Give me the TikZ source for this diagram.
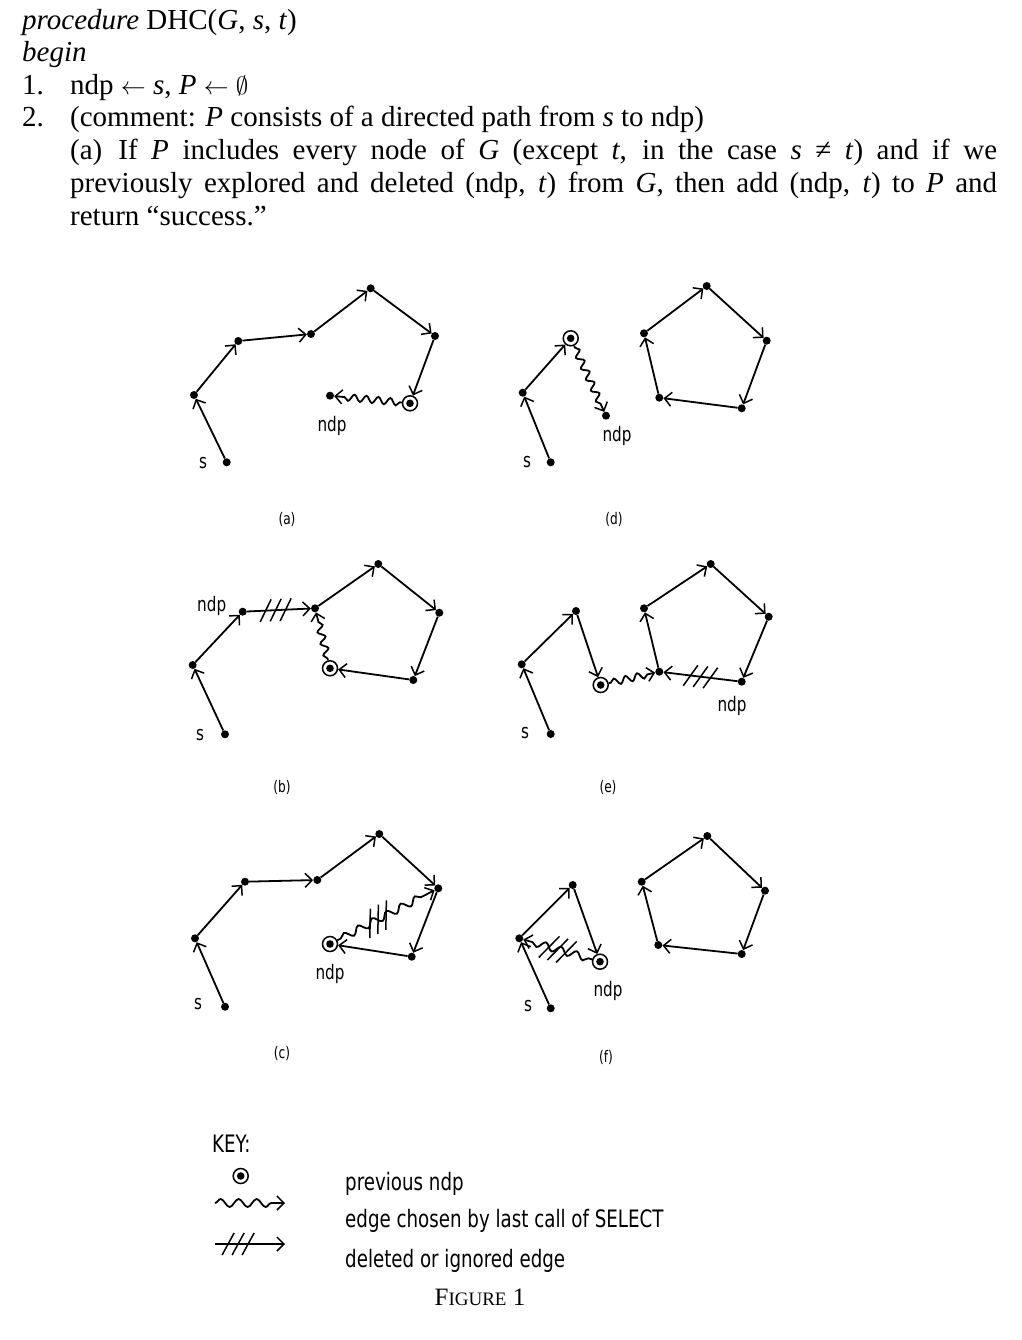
\documentclass[tikz,border=0pt]{standalone}
\usepackage{fontspec}
\setmainfont{Liberation Serif}
\newfontfamily\keyfont[FakeStretch=0.76]{DejaVu Sans}
\usetikzlibrary{arrows.meta,decorations.pathmorphing,decorations.markings}
\tikzset{
  dot/.style={circle,fill=black,inner sep=0pt,minimum size=8pt},
  prevdot/.style={circle,draw=black,line width=1.5pt,inner sep=0pt,minimum size=15pt,
    path picture={\fill[black] (path picture bounding box.center) circle (3.8pt);}},
  edge/.style={line width=1.8pt,-{Straight Barb[length=7pt,width=14pt,line width=1.5pt]}},
  wavy/.style={edge,decorate,decoration={snake,amplitude=3.4pt,segment length=12pt,pre length=2pt,post length=8pt}},
  longwavy/.style={edge,decorate,decoration={snake,amplitude=3.6pt,segment length=16pt,pre length=4pt,post length=8pt}},
  keywavy/.style={edge,decorate,decoration={snake,amplitude=4pt,segment length=18pt,pre length=0pt,post length=8pt}},
  hatch/.style={postaction={decorate,decoration={markings,mark=at position #1 with
    {\foreach \d in {-10,0,10}{\draw[line width=1.5pt,-] ({\d+6},-11)--({\d-6},11);}}}}},
  hatch/.default=0.5,
  ticks/.style={decorate,decoration={markings,mark=at position #1 with
    {\foreach \d in {-9,0,9}{\draw[line width=1.5pt,-] ({\d+7},-13)--({\d-7},13);}}}},
  ticks/.default=0.5,
  lab/.style={font=\keyfont\fontsize{20}{20}\selectfont,inner sep=0pt},
  figcap/.style={font=\keyfont\fontsize{16}{16}\selectfont,inner sep=0pt},
  keytext/.style={font=\keyfont\fontsize{24}{24}\selectfont,inner sep=0pt,anchor=base west},
  body/.style={font=\fontsize{29}{29}\selectfont,inner sep=0pt,anchor=base west},
}
\begin{document}
\begin{tikzpicture}[x=1pt,y=-1pt]
\useasboundingbox (0,0) rectangle (1021,1340);

% ---------- text ----------
\node[body] (t1) at (22,30) {\textit{procedure} DHC(\textit{G}, \textit{s}, \textit{t})};
\node[body] (t2) at (22,62) {\textit{begin}};
\node[body] (t3a) at (22,95) {1.};
\node[body] (t3) at (70,95) {ndp $\leftarrow$ \textit{s}, \textit{P} $\leftarrow$ $\emptyset$};
\node[body] (t4a) at (22,127) {2.};
\node[body] (t4) at (70,127) {(comment: \textit{P} consists of a directed path from \textit{s} to ndp)};
\node[body] (t5) at (70,160) {\makebox[927pt][s]{(a)\hspace{16pt}If \textit{P} includes every node of \textit{G} (except \textit{t}, in the case \textit{s} ≠ \textit{t}) and if we}};
\node[body] (t6) at (70,193) {\makebox[927pt][s]{previously explored and deleted (ndp, \textit{t}) from \textit{G}, then add (ndp, \textit{t}) to \textit{P} and}};
\node[body] (t7) at (70,226) {return “success.”};

% ---------- panel (a) ----------
\node[dot] (as) at (226.7,462.3) {};
\node[dot] (a1) at (194,395) {};
\node[dot] (a2) at (238.3,341) {};
\node[dot] (a3) at (311,334) {};
\node[dot] (a4) at (370.7,288.3) {};
\node[dot] (a5) at (435,336) {};
\node[prevdot] (a6) at (410,403.3) {};
\node[dot] (andp) at (330,395.7) {};
\draw[edge] (as) -- (a1);
\draw[edge] (a1) -- (a2);
\draw[edge] (a2) -- (a3);
\draw[edge] (a3) -- (a4);
\draw[edge] (a4) -- (a5);
\draw[edge] (a5) -- (a6);
\draw[wavy] (a6) -- (andp);
\node[lab] (asl) at (203,463) {s};
\node[lab] (andpl) at (332,426) {ndp};
\node[figcap] (acap) at (287,519) {(a)};

% ---------- panel (d) ----------
\node[dot] (ds) at (550.7,462.3) {};
\node[dot] (d1) at (522.7,392.7) {};
\node[prevdot] (d2) at (570.7,338.3) {};
\node[dot] (dndp) at (606,415.7) {};
\node[dot] (dp1) at (706.7,286) {};
\node[dot] (dp2) at (766.7,340.7) {};
\node[dot] (dp3) at (741.7,408.3) {};
\node[dot] (dp4) at (659.3,397.7) {};
\node[dot] (dp5) at (644,333.3) {};
\draw[edge] (ds) -- (d1);
\draw[edge] (d1) -- (d2);
\draw[wavy] (d2) -- (dndp);
\draw[edge] (dp5) -- (dp1);
\draw[edge] (dp1) -- (dp2);
\draw[edge] (dp2) -- (dp3);
\draw[edge] (dp3) -- (dp4);
\draw[edge] (dp4) -- (dp5);
\node[lab] (dsl) at (527,462) {s};
\node[lab] (dndpl) at (617,436) {ndp};
\node[figcap] (dcap) at (614,519) {(d)};

% ---------- panel (b) ----------
\node[dot] (bs) at (225,734.3) {};
\node[dot] (b1) at (192.7,665) {};
\node[dot] (b2) at (242.7,611.7) {};
\node[dot] (b3) at (315,608.3) {};
\node[dot] (b4) at (378.3,564) {};
\node[dot] (b5) at (439.3,612.7) {};
\node[dot] (b6) at (413.3,680) {};
\node[prevdot] (b7) at (330,668.3) {};
\draw[edge] (bs) -- (b1);
\draw[edge] (b1) -- (b2);
\draw[edge,hatch=0.45] (b2) -- (b3);
\draw[edge] (b3) -- (b4);
\draw[edge] (b4) -- (b5);
\draw[edge] (b5) -- (b6);
\draw[edge] (b6) -- (b7);
\draw[wavy] (b7) -- (b3);
\node[lab] (bsl) at (200,735) {s};
\node[lab] (bndpl) at (211.7,606) {ndp};
\node[figcap] (bcap) at (282,787) {(b)};

% ---------- panel (e) ----------
\node[dot] (es) at (550.7,734) {};
\node[dot] (e1) at (521.7,664.3) {};
\node[dot] (e2) at (576,611) {};
\node[prevdot] (e3) at (600.7,685) {};
\node[dot] (e4) at (659.3,671.7) {};
\node[dot] (e5) at (644,608.3) {};
\node[dot] (e6) at (710.7,564) {};
\node[dot] (e7) at (768.7,616.7) {};
\node[dot] (e8) at (741.7,681.7) {};
\draw[edge] (es) -- (e1);
\draw[edge] (e1) -- (e2);
\draw[edge] (e2) -- (e3);
\draw[wavy] (e3) -- (e4);
\draw[edge] (e4) -- (e5);
\draw[edge] (e5) -- (e6);
\draw[edge] (e6) -- (e7);
\draw[edge] (e7) -- (e8);
\draw[edge,hatch] (e8) -- (e4);
\node[lab] (esl) at (525,733) {s};
\node[lab] (endpl) at (732,706) {ndp};
\node[figcap] (ecap) at (608,787) {(e)};

% ---------- panel (c) ----------
\node[dot] (cs) at (225,1006.7) {};
\node[dot] (c1) at (195,938.3) {};
\node[dot] (c2) at (245,881.7) {};
\node[dot] (c3) at (317.3,880) {};
\node[dot] (c4) at (379.3,834) {};
\node[dot] (c5) at (438.3,888.3) {};
\node[dot] (c6) at (411.7,956.7) {};
\node[prevdot] (c7) at (330,944) {};
\draw[edge] (cs) -- (c1);
\draw[edge] (c1) -- (c2);
\draw[edge] (c2) -- (c3);
\draw[edge] (c3) -- (c4);
\draw[edge] (c4) -- (c5);
\draw[edge] (c5) -- (c6);
\draw[edge] (c6) -- (c7);
\draw[longwavy] (c7) -- (c5);
\path[ticks=0.42] (c7) -- (c5);
\node[lab] (csl) at (198,1004) {s};
\node[lab] (cndpl) at (330,974) {ndp};
\node[figcap] (ccap) at (282,1053) {(c)};

% ---------- panel (f) ----------
\node[dot] (fs) at (550.7,1008.3) {};
\node[dot] (f1) at (519.3,938.3) {};
\node[dot] (f2) at (572.7,885) {};
\node[prevdot] (f3) at (600,961.7) {};
\node[dot] (fp1) at (707.3,836) {};
\node[dot] (fp2) at (765,890.7) {};
\node[dot] (fp3) at (741.7,954) {};
\node[dot] (fp4) at (658.3,945) {};
\node[dot] (fp5) at (641.7,881.7) {};
\draw[edge] (fs) -- (f1);
\draw[edge] (f1) -- (f2);
\draw[edge] (f2) -- (f3);
\draw[longwavy] (f3) -- (f1);
\path[ticks=0.5] (f3) -- (f1);
\draw[edge] (fp5) -- (fp1);
\draw[edge] (fp1) -- (fp2);
\draw[edge] (fp2) -- (fp3);
\draw[edge] (fp3) -- (fp4);
\draw[edge] (fp4) -- (fp5);
\node[lab] (fsl) at (528,1006) {s};
\node[lab] (fndpl) at (608,991) {ndp};
\node[figcap] (fcap) at (606,1057) {(f)};

% ---------- key ----------
\node[keytext] (key) at (212,1152) {KEY:};
\node[prevdot] (kdot) at (240.7,1176) {};
\node[keytext] (k1) at (345,1190) {previous ndp};
\coordinate (kw1) at (215,1203);
\coordinate (kw2) at (285,1203);
\draw[keywavy] (kw1) -- (kw2);
\node[keytext] (k2) at (345,1227) {edge chosen by last call of SELECT};
\coordinate (kh1) at (215,1244);
\coordinate (kh2) at (285,1244);
\draw[edge,hatch=0.33] (kh1) -- (kh2);
\node[keytext] (k3) at (345,1267) {deleted or ignored edge};
\node[inner sep=0pt,anchor=base] (fig) at (480,1305) {\fontsize{25}{25}\selectfont F\fontsize{19}{19}\selectfont IGURE\fontsize{25}{25}\selectfont{} 1};
\end{tikzpicture}
\end{document}
